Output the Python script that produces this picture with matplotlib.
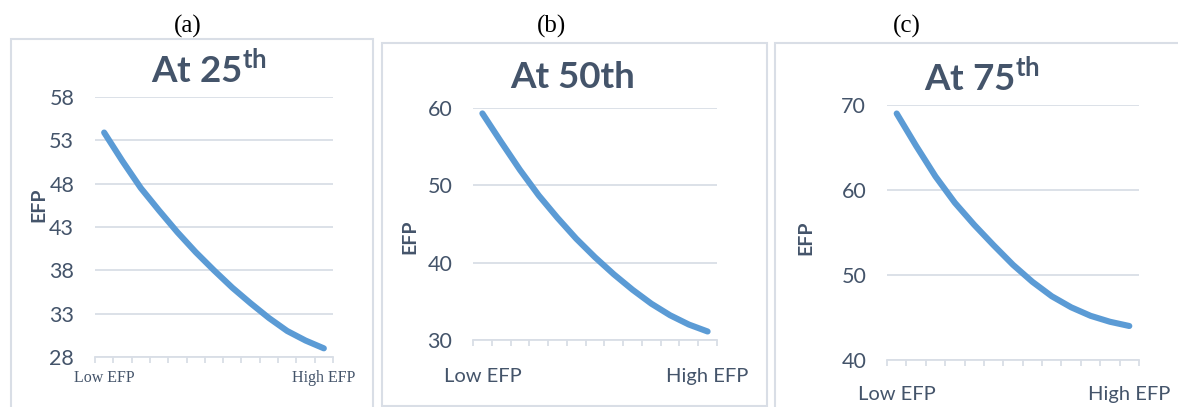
import matplotlib
matplotlib.use('Agg')
import matplotlib.pyplot as plt
from matplotlib.patches import Rectangle
import numpy as np

plt.rcParams['font.family'] = ['Lato', 'DejaVu Sans']
plt.rcParams['mathtext.fontset'] = 'custom'
plt.rcParams['mathtext.rm'] = 'Lato:bold'
plt.rcParams['mathtext.bf'] = 'Lato:bold'

# data (13 points along the EFP axis)
n_points = 13
efp_25 = [53.9, 50.6, 47.5, 44.9, 42.4, 40.1, 38.0, 36.0, 34.2, 32.5, 31.0, 29.9, 29.0]
efp_50 = [59.3, 55.6, 52.0, 48.7, 45.8, 43.1, 40.7, 38.5, 36.5, 34.7, 33.2, 32.0, 31.1]
efp_75 = [69.0, 65.2, 61.6, 58.5, 55.9, 53.5, 51.2, 49.2, 47.5, 46.2, 45.2, 44.5, 44.0]
x_labels = ['Low EFP', 'High EFP']
titles = [r'At 25$^{\mathbf{th}}$', 'At 50th', r'At 75$^{\mathbf{th}}$']
y_ticks = [[28, 33, 38, 43, 48, 53, 58], [30, 40, 50, 60], [40, 50, 60, 70]]
panel_tags = ['(a)', '(b)', '(c)']

W, H = 1178, 407
fig = plt.figure(figsize=(W / 100, H / 100), dpi=100)

line_c = '#5B9BD5'
text_c = '#44546A'
grid_c = '#D9DEE6'
box_c = '#D9DEE6'

# panel boxes, in pixels: left, top, right, bottom
boxes = [(11, 39, 373, 412), (382, 43, 767, 406), (775, 43, 1185, 412)]
for l, t, r, b in boxes:
    fig.patches.append(Rectangle((l / W, 1 - b / H), (r - l) / W, (b - t) / H,
                                 transform=fig.transFigure, fill=False,
                                 edgecolor=box_c, lw=1.5))

# axes areas in pixels
areas = [(95, 97, 333, 357), (473, 108, 717, 340), (887, 105, 1139, 360)]
title_x = [209, 573, 982]
title_y = [69, 77, 77]
tag_x = [188, 552, 907]
ylab_x = [39, 410, 806]
ylab_y = [205, 237, 238]
xpad = [9, 20, 19]

series = [efp_25, efp_50, efp_75]
for i, (l, t, r, b) in enumerate(areas):
    ax = fig.add_axes([l / W, 1 - b / H, (r - l) / W, (b - t) / H])
    x = np.arange(n_points)
    ax.plot(x, series[i], color=line_c, lw=4.4, solid_capstyle='round')
    ax.set_xlim(-0.5, n_points - 0.5)
    ax.set_ylim(y_ticks[i][0], y_ticks[i][-1])
    ax.set_yticks(y_ticks[i])
    ax.grid(axis='y', color=grid_c, lw=1.3)
    ax.set_axisbelow(True)
    for s in ['left', 'right', 'top']:
        ax.spines[s].set_visible(False)
    ax.spines['bottom'].set_color(grid_c)
    ax.spines['bottom'].set_linewidth(1.3)
    ax.set_xticks([0, n_points - 1])
    ax.set_xticks(np.arange(-0.5, n_points), minor=True)
    ax.tick_params(axis='x', which='major', length=0, pad=xpad[i])
    ax.tick_params(axis='x', which='minor', length=4, width=1.3, color=grid_c)
    ax.tick_params(axis='y', length=0, pad=15, labelsize=15.5, labelcolor=text_c)
    if i == 0:
        ax.set_xticklabels(x_labels, fontsize=11.5, color=text_c,
                           family='Liberation Serif')
    else:
        ax.set_xticklabels(x_labels, fontsize=14.5, color=text_c)

    fig.text(title_x[i] / W, 1 - title_y[i] / H, titles[i],
             ha='center', va='center', fontsize=26.5, fontweight='bold',
             color=text_c)
    fig.text(ylab_x[i] / W, 1 - ylab_y[i] / H, 'EFP', rotation=90,
             ha='center', va='center', fontsize=14, fontweight='bold',
             color=text_c)
    fig.text(tag_x[i] / W, 1 - 26 / H, panel_tags[i], ha='center',
             va='center', fontsize=18, family='Liberation Serif', color='black')

fig.savefig('out.png', dpi=100)
